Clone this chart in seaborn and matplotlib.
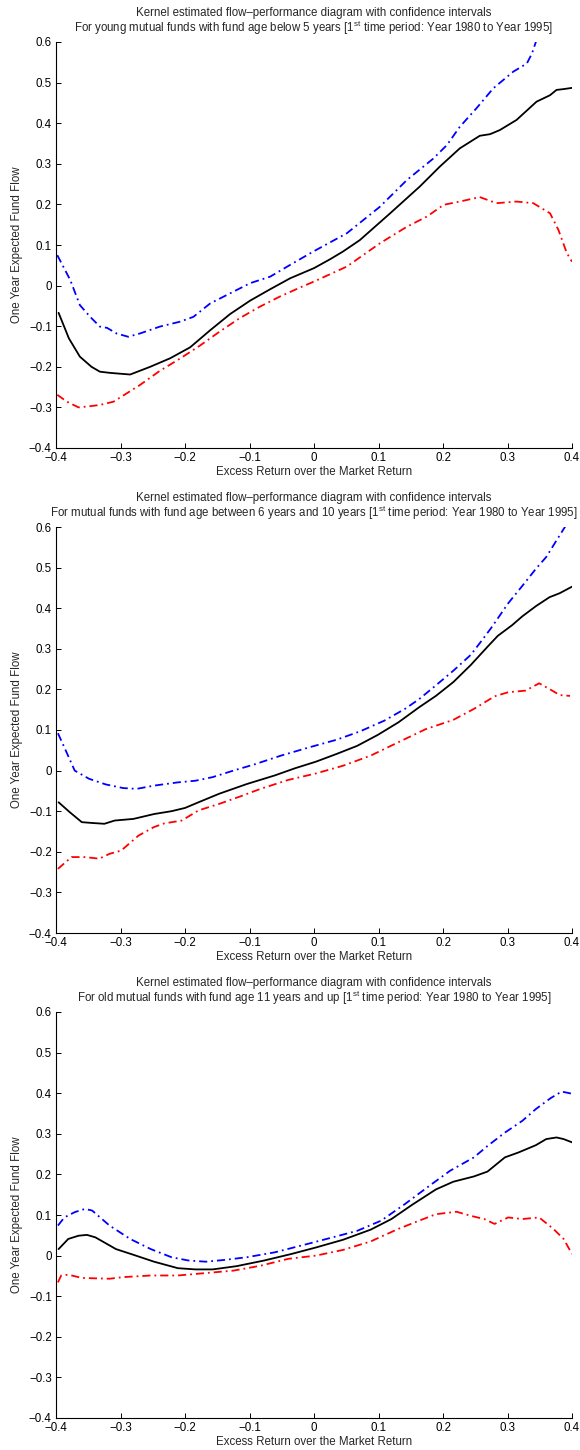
import matplotlib
matplotlib.use("Agg")
import matplotlib.pyplot as plt
import seaborn as sns
import pandas as pd

# ---------------- data ----------------
title_line1 = "Kernel estimated flow\u2013performance diagram with confidence intervals"
subtitles = [
    "For young mutual funds with fund age below 5 years [1$^{\\rm st}$ time period: Year 1980 to Year 1995]",
    "For mutual funds with fund age between 6 years and 10 years [1$^{\\rm st}$ time period: Year 1980 to Year 1995]",
    "For old mutual funds with fund age 11 years and up [1$^{\\rm st}$ time period: Year 1980 to Year 1995]",
]
x_label = "Excess Return over the Market Return"
y_label = "One Year Expected Fund Flow"
x_ticks = [-0.4, -0.3, -0.2, -0.1, 0.0, 0.1, 0.2, 0.3, 0.4]
x_tick_labels = ["\u22120.4", "\u22120.3", "\u22120.2", "\u22120.1", "0", "0.1", "0.2", "0.3", "0.4"]
y_ticks = [-0.4, -0.3, -0.2, -0.1, 0.0, 0.1, 0.2, 0.3, 0.4, 0.5, 0.6]
y_tick_labels = ["\u22120.4", "\u22120.3", "\u22120.2", "\u22120.1", "0", "0.1", "0.2", "0.3", "0.4", "0.5", "0.6"]

# Panel 1: young funds
young_mean_x = [-0.396, -0.380, -0.363, -0.345, -0.332, -0.316, -0.285, -0.254, -0.223, -0.192, -0.161,
                -0.130, -0.099, -0.068, -0.037, 0.000, 0.025, 0.045, 0.071, 0.118, 0.164, 0.195, 0.226,
                0.257, 0.273, 0.288, 0.314, 0.345, 0.366, 0.376, 0.387, 0.400]
young_mean_y = [-0.067, -0.130, -0.175, -0.200, -0.212, -0.215, -0.219, -0.200, -0.179, -0.152, -0.110,
                -0.070, -0.037, -0.009, 0.018, 0.043, 0.065, 0.084, 0.112, 0.178, 0.244, 0.293, 0.338,
                0.369, 0.373, 0.383, 0.408, 0.453, 0.469, 0.482, 0.484, 0.487]
young_upper_x = [-0.398, -0.378, -0.363, -0.347, -0.332, -0.321, -0.306, -0.288, -0.270, -0.239, -0.208,
                 -0.187, -0.161, -0.130, -0.099, -0.068, -0.037, -0.001, 0.051, 0.102, 0.144, 0.185,
                 0.206, 0.226, 0.252, 0.278, 0.309, 0.330, 0.338, 0.345, 0.360]
young_upper_y = [0.075, 0.014, -0.048, -0.077, -0.101, -0.104, -0.118, -0.126, -0.118, -0.101, -0.089,
                 -0.077, -0.044, -0.019, 0.006, 0.022, 0.051, 0.084, 0.129, 0.194, 0.260, 0.313,
                 0.346, 0.391, 0.437, 0.486, 0.527, 0.547, 0.572, 0.605, 0.680]
young_lower_x = [-0.398, -0.383, -0.365, -0.347, -0.332, -0.311, -0.290, -0.270, -0.239, -0.208, -0.177,
                 -0.146, -0.115, -0.084, -0.053, -0.022, 0.000, 0.051, 0.102, 0.144, 0.175, 0.201,
                 0.226, 0.257, 0.283, 0.314, 0.340, 0.366, 0.379, 0.392, 0.400]
young_lower_y = [-0.269, -0.286, -0.300, -0.297, -0.294, -0.286, -0.265, -0.245, -0.210, -0.180, -0.148,
                 -0.113, -0.080, -0.052, -0.027, -0.005, 0.010, 0.047, 0.104, 0.145, 0.170, 0.199,
                 0.207, 0.218, 0.203, 0.207, 0.203, 0.178, 0.137, 0.080, 0.059]

# Panel 2: funds aged 6-10 years
mid_mean_x = [-0.396, -0.379, -0.360, -0.344, -0.325, -0.309, -0.280, -0.248, -0.221, -0.200, -0.179,
              -0.147, -0.104, -0.061, -0.029, 0.003, 0.035, 0.067, 0.099, 0.131, 0.163, 0.189, 0.216,
              0.243, 0.269, 0.285, 0.307, 0.323, 0.344, 0.365, 0.381, 0.400]
mid_mean_y = [-0.078, -0.102, -0.127, -0.129, -0.131, -0.123, -0.119, -0.107, -0.100, -0.092, -0.078,
              -0.057, -0.033, -0.012, 0.006, 0.022, 0.041, 0.061, 0.088, 0.119, 0.156, 0.184, 0.218,
              0.260, 0.305, 0.332, 0.358, 0.380, 0.405, 0.427, 0.437, 0.453]
mid_upper_x = [-0.397, -0.387, -0.371, -0.349, -0.323, -0.296, -0.275, -0.248, -0.211, -0.184, -0.157,
               -0.125, -0.093, -0.051, -0.008, 0.035, 0.072, 0.109, 0.141, 0.163, 0.189, 0.216, 0.243,
               0.259, 0.275, 0.301, 0.323, 0.344, 0.360, 0.376, 0.389, 0.400]
mid_upper_y = [0.092, 0.057, 0.000, -0.020, -0.034, -0.043, -0.045, -0.037, -0.029, -0.025, -0.016,
               0.000, 0.015, 0.037, 0.057, 0.076, 0.097, 0.123, 0.152, 0.176, 0.210, 0.246, 0.285,
               0.318, 0.352, 0.412, 0.455, 0.497, 0.526, 0.567, 0.600, 0.630]
mid_lower_x = [-0.397, -0.376, -0.355, -0.333, -0.317, -0.299, -0.272, -0.248, -0.232, -0.205, -0.179,
               -0.147, -0.115, -0.083, -0.040, 0.003, 0.045, 0.088, 0.131, 0.173, 0.216, 0.248, 0.280,
               0.301, 0.328, 0.349, 0.365, 0.381, 0.397]
mid_lower_y = [-0.242, -0.213, -0.213, -0.217, -0.205, -0.197, -0.160, -0.139, -0.130, -0.123, -0.098,
               -0.082, -0.064, -0.045, -0.023, -0.007, 0.012, 0.037, 0.070, 0.102, 0.125, 0.152, 0.183,
               0.193, 0.197, 0.215, 0.201, 0.186, 0.184]

# Panel 3: old funds
old_mean_x = [-0.396, -0.381, -0.365, -0.352, -0.339, -0.307, -0.280, -0.248, -0.211, -0.184, -0.157,
              -0.120, -0.077, -0.035, 0.003, 0.045, 0.088, 0.120, 0.152, 0.189, 0.216, 0.248, 0.269,
              0.296, 0.317, 0.344, 0.360, 0.376, 0.387, 0.400]
old_mean_y = [0.016, 0.041, 0.049, 0.051, 0.045, 0.016, 0.002, -0.015, -0.031, -0.034, -0.034,
              -0.026, -0.012, 0.004, 0.020, 0.039, 0.064, 0.090, 0.125, 0.163, 0.182, 0.195, 0.207,
              0.242, 0.254, 0.272, 0.287, 0.291, 0.287, 0.279]
old_upper_x = [-0.397, -0.387, -0.371, -0.355, -0.344, -0.317, -0.285, -0.253, -0.221, -0.195, -0.168,
               -0.141, -0.104, -0.061, -0.019, 0.029, 0.067, 0.104, 0.141, 0.179, 0.211, 0.248, 0.269,
               0.296, 0.323, 0.344, 0.367, 0.384, 0.399]
old_upper_y = [0.074, 0.094, 0.107, 0.115, 0.111, 0.074, 0.041, 0.016, -0.004, -0.012, -0.015,
               -0.011, -0.004, 0.008, 0.025, 0.045, 0.061, 0.086, 0.127, 0.172, 0.209, 0.242, 0.270,
               0.303, 0.332, 0.361, 0.388, 0.404, 0.399]
old_lower_x = [-0.397, -0.392, -0.381, -0.360, -0.339, -0.317, -0.296, -0.253, -0.211, -0.168, -0.125,
               -0.083, -0.040, 0.003, 0.045, 0.088, 0.131, 0.163, 0.189, 0.221, 0.243, 0.264, 0.280,
               0.301, 0.323, 0.349, 0.371, 0.387, 0.400]
old_lower_y = [-0.066, -0.049, -0.047, -0.055, -0.056, -0.057, -0.053, -0.049, -0.049, -0.043, -0.037,
               -0.025, -0.008, 0.000, 0.014, 0.035, 0.066, 0.086, 0.102, 0.108, 0.098, 0.090, 0.078,
               0.094, 0.090, 0.094, 0.066, 0.041, 0.004]

panels = [
    (young_mean_x, young_mean_y, young_upper_x, young_upper_y, young_lower_x, young_lower_y),
    (mid_mean_x, mid_mean_y, mid_upper_x, mid_upper_y, mid_lower_x, mid_lower_y),
    (old_mean_x, old_mean_y, old_upper_x, old_upper_y, old_lower_x, old_lower_y),
]

# ---------------- style ----------------
sns.set_style("ticks")
plt.rcParams["font.family"] = ["Liberation Sans", "DejaVu Sans"]
plt.rcParams["mathtext.fontset"] = "custom"
plt.rcParams["mathtext.rm"] = "Liberation Sans"
plt.rcParams["mathtext.it"] = "Liberation Sans:italic"
plt.rcParams["mathtext.bf"] = "Liberation Sans:bold"

FS = 8.3
W, H = 580, 1450
fig = plt.figure(figsize=(W / 100, H / 100), dpi=100)

left_px, right_px = 56, 572
tops_px = [42, 527, 1012]
ax_h_px = 406

dash_dot = (0, (4.5, 2.2, 1.0, 2.2))

for i, (mx, my, ux, uy, lx, ly) in enumerate(panels):
    top = tops_px[i]
    ax = fig.add_axes([left_px / W, 1 - (top + ax_h_px) / H,
                       (right_px - left_px) / W, ax_h_px / H])
    df_m = pd.DataFrame({"x": mx, "y": my})
    df_u = pd.DataFrame({"x": ux, "y": uy})
    df_l = pd.DataFrame({"x": lx, "y": ly})
    sns.lineplot(data=df_u, x="x", y="y", ax=ax, color="#0000ff", lw=1.3,
                 linestyle=dash_dot, sort=False, estimator=None)
    sns.lineplot(data=df_l, x="x", y="y", ax=ax, color="#ff0000", lw=1.3,
                 linestyle=dash_dot, sort=False, estimator=None)
    sns.lineplot(data=df_m, x="x", y="y", ax=ax, color="black", lw=1.3,
                 sort=False, estimator=None)

    ax.set_xlim(-0.4, 0.4)
    ax.set_ylim(-0.4, 0.6)
    ax.set_xticks(x_ticks)
    ax.set_xticklabels(x_tick_labels)
    ax.set_yticks(y_ticks)
    ax.set_yticklabels(y_tick_labels)
    ax.tick_params(direction="in", length=3.6, width=0.7, labelsize=FS,
                   colors="black", pad=3)
    ax.tick_params(axis="x", pad=3.0)
    for s in ["top", "right"]:
        ax.spines[s].set_visible(False)
    for s in ["left", "bottom"]:
        ax.spines[s].set_linewidth(0.8)
        ax.spines[s].set_color("black")

    ax.set_xlabel(x_label, fontsize=FS)
    ax.set_ylabel(y_label, fontsize=FS)
    ax.xaxis.set_label_coords(0.5, -18 / ax_h_px)
    ax.yaxis.set_label_coords(-33 / (right_px - left_px), 0.5)

    ax.annotate(title_line1, xy=(0.5, 1), xycoords="axes fraction",
                xytext=(0, 29 * 0.72), textcoords="offset points",
                ha="center", va="center", fontsize=FS)
    ax.annotate(subtitles[i], xy=(0.5, 1), xycoords="axes fraction",
                xytext=(0, 14 * 0.72), textcoords="offset points",
                ha="center", va="center", fontsize=FS)

fig.savefig("out.png", dpi=100)
